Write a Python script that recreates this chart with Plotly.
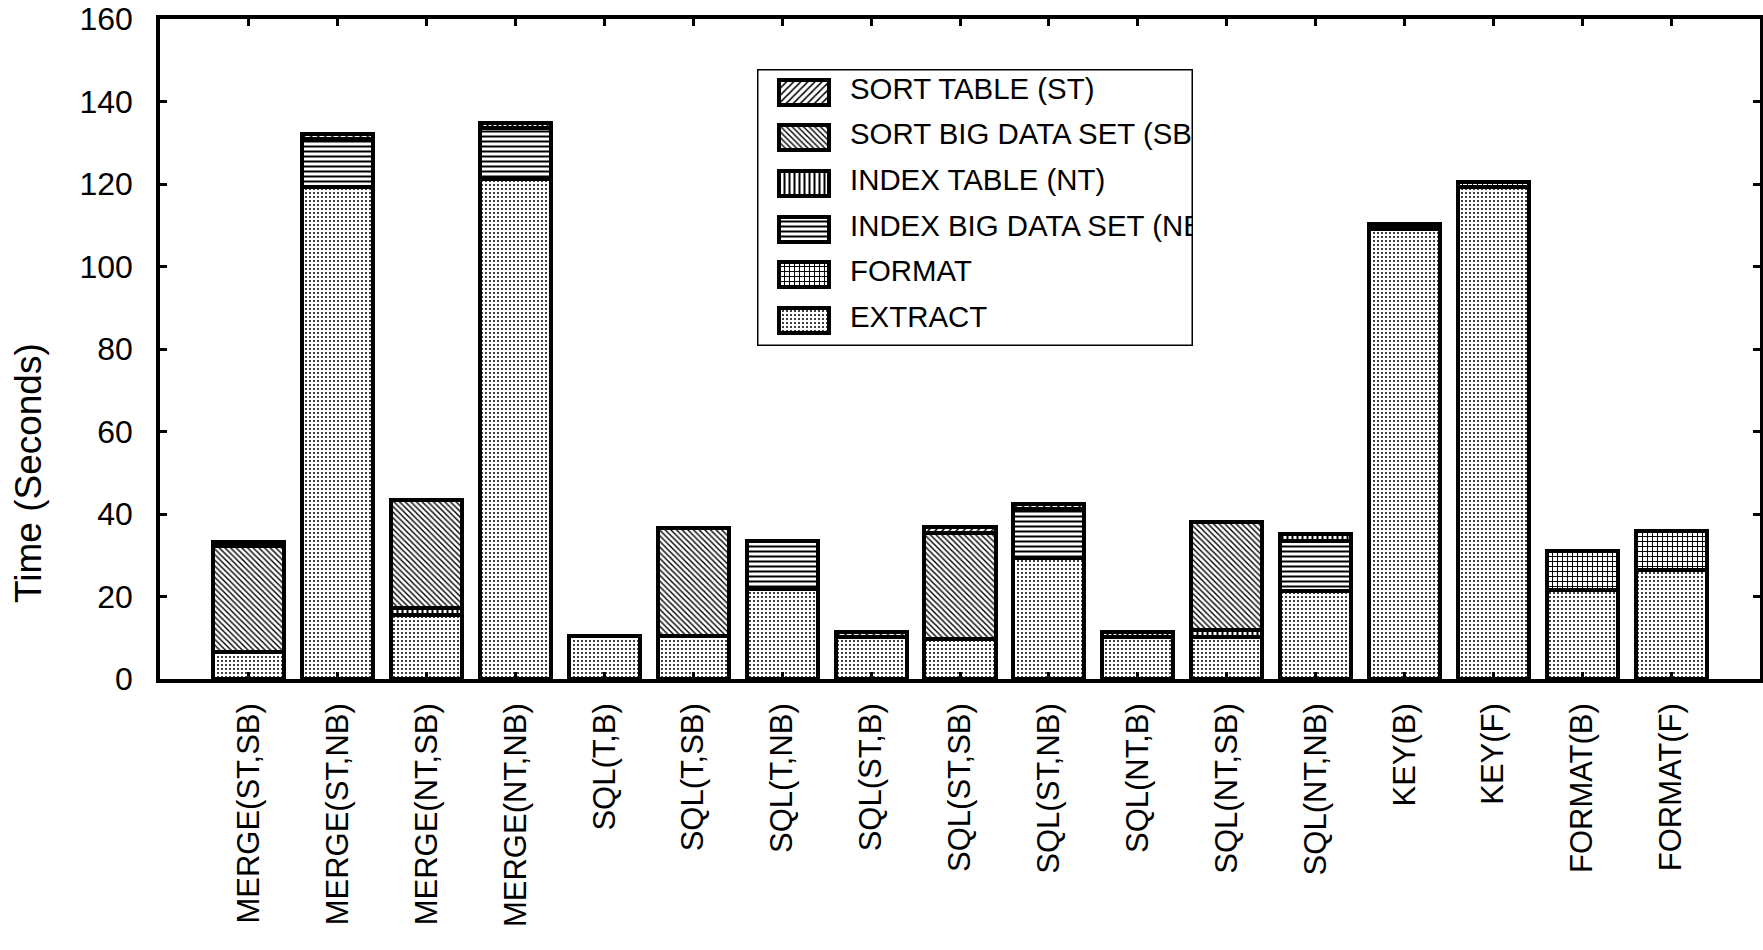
import plotly.graph_objects as go

categories = ["MERGE(ST,SB)", "MERGE(ST,NB)", "MERGE(NT,SB)", "MERGE(NT,NB)",
              "SQL(T,B)", "SQL(T,SB)", "SQL(T,NB)", "SQL(ST,B)", "SQL(ST,SB)",
              "SQL(ST,NB)", "SQL(NT,B)", "SQL(NT,SB)", "SQL(NT,NB)",
              "KEY(B)", "KEY(F)", "FORMAT(B)", "FORMAT(F)"]

extract = [6.5, 119.3, 15.5, 121.3, 10.4, 10.4, 21.8, 10.1, 9.8, 29.4, 10.1, 10.1, 21.3, 109.2, 119.3, 21.5, 26.4]
format_ = [0, 0, 0, 0, 0, 0, 0, 0, 0, 0, 0, 0, 0, 1.2, 1.3, 9.6, 9.6]
index_big = [0, 11.7, 0, 12.3, 0, 0, 11.7, 0, 0, 11.7, 0, 0, 12.2, 0, 0, 0, 0]
index_table = [0, 0, 1.8, 1.3, 0, 0, 0, 0, 0, 0, 1.4, 1.9, 1.6, 0, 0, 0, 0]
sort_big = [25.8, 0, 26.2, 0, 0, 26.1, 0, 0, 25.6, 0, 0, 26.1, 0, 0, 0, 0, 0]
sort_table = [1.0, 1.2, 0, 0, 0, 0, 0, 1.3, 1.4, 1.4, 0, 0, 0, 0, 0, 0, 0]

series_names = ["EXTRACT", "FORMAT", "INDEX BIG DATA SET (NB)", "INDEX TABLE (NT)",
                "SORT BIG DATA SET (SB)", "SORT TABLE (ST)"]
series_values = [extract, format_, index_big, index_table, sort_big, sort_table]

y_ticks = [0, 20, 40, 60, 80, 100, 120, 140, 160]
y_title = "Time (Seconds)"

FONT = "Liberation Sans, Arial, sans-serif"
patterns = {
    "EXTRACT": dict(shape=".", size=4, solidity=0.2),
    "FORMAT": dict(shape="+", size=5, solidity=0.35),
    "INDEX BIG DATA SET (NB)": dict(shape="-", size=5, solidity=0.4),
    "INDEX TABLE (NT)": dict(shape="|", size=5, solidity=0.4),
    "SORT BIG DATA SET (SB)": dict(shape="\\", size=4, solidity=0.35),
    "SORT TABLE (ST)": dict(shape="/", size=5, solidity=0.3),
}

def marker_for(name):
    p = patterns[name]
    return dict(color="white", line=dict(color="black", width=4),
                pattern=dict(shape=p["shape"], size=p["size"], solidity=p["solidity"],
                             fgcolor="black", bgcolor="white", fillmode="replace"))

fig = go.Figure()
for name, vals in zip(series_names, series_values):
    fig.add_trace(go.Bar(
        x=categories, y=[v if v else None for v in vals], name=name,
        showlegend=False, width=0.8, marker=marker_for(name),
    ))

W, H = 1763, 950
PL, PT, PW, PH = 160, 19, 1600, 660   # plot area (figure coords)

# Legend drawn in an inset axis (pixel-like units inside the legend box)
legend_order = list(reversed(series_names))
leg_w, leg_h = 436, 277
leg_x, leg_y = 597, 50   # offsets from plot-area left/top
row_y = [23, 68, 114, 160, 205, 251]
for i, name in enumerate(legend_order):
    fig.add_trace(go.Bar(
        x=[50], y=[row_y[i]], base=[22], orientation="h", width=25,
        xaxis="x2", yaxis="y2", showlegend=False, hoverinfo="skip",
        marker=marker_for(name),
    ))
fig.add_trace(go.Scatter(
    x=[93] * len(legend_order), y=row_y, mode="text", text=legend_order,
    textposition="middle right", cliponaxis=True, hoverinfo="skip",
    textfont=dict(family=FONT, size=29.4, color="black"),
    xaxis="x2", yaxis="y2", showlegend=False,
))

fig.add_shape(type="rect", xref="x2", yref="y2", x0=0, x1=leg_w, y0=0, y1=leg_h,
              line=dict(color="black", width=3), fillcolor="white", layer="below")

fig.add_annotation(text=y_title, xref="paper", yref="paper",
                   x=-132 / PW, y=(PH - 454) / PH, textangle=-90,
                   showarrow=False, xanchor="center", yanchor="middle",
                   font=dict(family=FONT, size=37, color="black"))

fig.update_layout(
    width=W, height=H,
    margin=dict(l=PL, r=W - PL - PW, t=PT, b=H - PT - PH),
    paper_bgcolor="white", plot_bgcolor="white",
    barmode="stack", bargap=0.2,
    font=dict(family=FONT, size=30, color="black"),
    xaxis=dict(type="category", range=[-1, 17], showline=True, linewidth=3.5,
               linecolor="black", mirror="ticks", ticks="inside", ticklen=7,
               tickwidth=3, tickcolor="black", tickangle=-90, ticklabelstandoff=8,
               tickfont=dict(size=31), showgrid=False, zeroline=False, automargin=False,
               ticklabeloverflow="allow"),
    yaxis=dict(range=[0, 160], tickvals=y_ticks, showline=True, linewidth=3.5,
               linecolor="black", mirror="ticks", ticks="inside", ticklen=7,
               tickwidth=3, tickcolor="black", ticklabelstandoff=17,
               tickfont=dict(size=32), showgrid=False, zeroline=False, automargin=False,
               ticklabeloverflow="allow"),
    xaxis2=dict(domain=[leg_x / PW, (leg_x + leg_w) / PW],
                range=[0, leg_w], anchor="y2", visible=False, fixedrange=True),
    yaxis2=dict(domain=[(PH - leg_y - leg_h) / PH, (PH - leg_y) / PH],
                range=[leg_h, 0], anchor="x2", visible=False, fixedrange=True),
)

fig.write_html("out.html", config={"displayModeBar": False},
               post_script="document.body.style.margin='0';document.body.style.overflow='hidden';")
